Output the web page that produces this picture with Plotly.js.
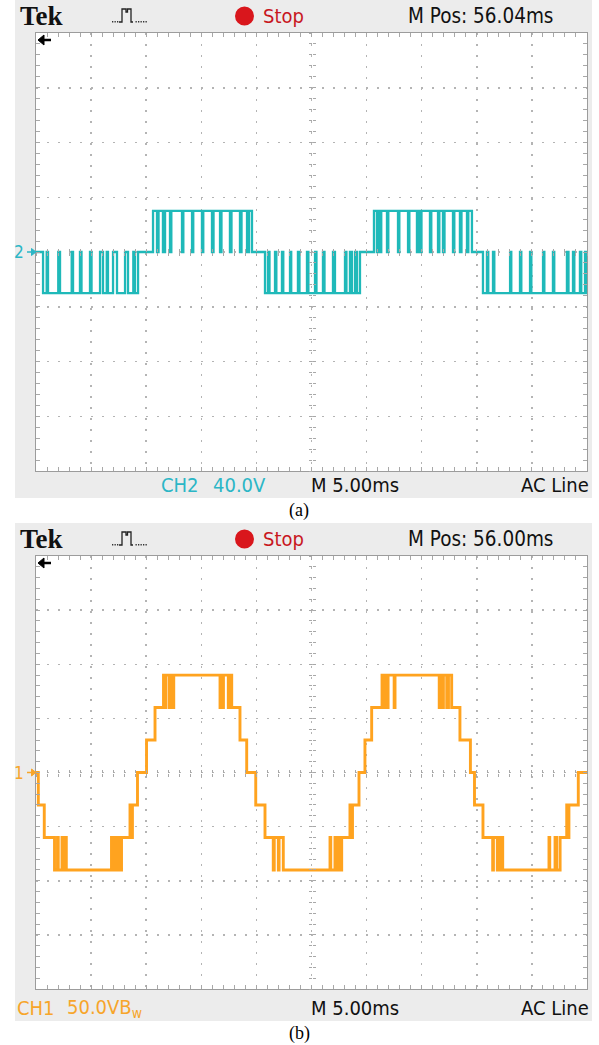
<!DOCTYPE html>
<html><head><meta charset="utf-8">
<script src="https://cdn.plot.ly/plotly-3.0.1.min.js"></script>
<style>html,body{margin:0;padding:0;background:#fff}#g{width:599px;height:1045px}</style>
</head><body><div id="g"></div>
<script>
// ---- data ----
// (a) CH2, single H-bridge cell output (V), time in ms
const tA = [0,0.64,0.97,1.09,2.02,2.18,3.24,3.36,3.99,4.13,4.90,5.04,5.81,6.08,6.42,6.53,6.99,7.35,8.08,8.35,8.83,8.98,9.26,
 10.62,10.98,11.12,11.52,11.71,12.16,12.28,13.25,13.37,14.16,14.27,15.06,15.18,15.97,16.11,16.70,16.83,17.60,17.74,18.51,18.65,19.15,19.33,19.60,
 20.78,21.05,21.19,21.69,21.81,22.32,22.44,23.05,23.16,23.77,23.91,24.59,24.72,25.32,25.45,26.04,26.18,26.95,27.13,28.04,28.17,28.49,28.67,28.95,29.13,29.40,
 30.67,30.94,31.06,31.21,31.33,31.85,31.97,32.85,32.97,33.76,33.88,34.57,34.71,34.84,34.98,35.75,35.87,36.48,36.60,36.93,37.07,37.84,37.96,38.47,38.61,39.11,39.23,39.56,
 40.56,40.92,41.04,41.47,41.59,43.02,43.13,43.92,44.04,44.83,44.95,46.01,46.13,46.91,47.03,48.18,48.32,48.73,48.85,49.36,49.48,49.82,49.91,50.00];
const vA = [0,-30,0,-30,0,-30,0,-30,0,-30,0,-30,0,-30,0,-30,0,-30,0,-30,0,-30,0,
 30,0,30,0,30,0,30,0,30,0,30,0,30,0,30,0,30,0,30,0,30,0,30,0,
 -30,0,-30,0,-30,0,-30,0,-30,0,-30,0,-30,0,-30,0,-30,0,-30,0,-30,0,-30,0,-30,0,
 30,0,30,0,30,0,30,0,30,0,30,0,30,0,30,0,30,0,30,0,30,0,30,0,30,0,30,0,
 -30,0,-30,0,-30,0,-30,0,-30,0,-30,0,-30,0,-30,0,-30,0,-30,0,-30,0,-30,-30];
// (b) CH1, seven-level staircase output (V), time in ms
const tB = [0,0.21,0.75,1.68,1.95,2.02,2.36,2.43,2.68,2.75,6.85,6.92,7.17,7.24,7.47,7.54,7.76,8.53,8.60,8.75,9.21,
 10.03,10.80,11.57,11.69,11.80,12.11,12.18,12.43,12.50,16.70,16.77,16.94,17.01,17.45,17.56,17.76,18.51,19.12,19.94,
 20.78,21.53,21.62,21.99,22.06,22.44,26.68,26.75,27.13,27.20,27.45,27.52,27.74,28.49,28.56,28.72,29.31,29.85,
 30.46,31.40,31.62,31.69,31.88,31.95,32.50,32.58,36.59,36.66,36.90,36.97,37.27,37.43,37.72,38.47,39.42,39.79,
 40.56,41.44,41.51,41.86,41.93,42.19,42.28,42.35,46.55,46.62,47.10,47.25,47.56,48.16,48.23,48.36,49.21,50.00];
const vB = [0,-30,-60,-90,-60,-90,-60,-90,-60,-90,-60,-90,-60,-90,-60,-90,-60,-30,-60,-30,0,
 30,60,90,60,90,60,90,60,90,60,90,60,90,60,90,60,30,0,-30,
 -60,-90,-60,-90,-60,-90,-60,-90,-60,-90,-60,-90,-60,-30,-60,-30,0,30,
 60,90,60,90,60,90,60,90,60,90,60,90,60,90,60,30,0,-30,
 -60,-90,-60,-90,-60,-90,-60,-90,-60,-90,-60,-90,-60,-30,-60,-30,0,0];
// scope settings / labels
const timeRange = [0, 50];          // 10 div x 5.00 ms
const rangeA = [-160, 160];         // 8 div x 40.0 V
const rangeB = [-200, 200];         // 8 div x 50.0 V
const headerA = {pos: 'M Pos: 56.04ms', ch: 'CH2', scale: '40.0V', tb: 'M 5.00ms', trig: 'AC Line', cap: '(a)', mark: '2'};
const headerB = {pos: 'M Pos: 56.00ms', ch: 'CH1', scale: '50.0VB<sub>w</sub>', tb: 'M 5.00ms', trig: 'AC Line', cap: '(b)', mark: '1'};

// ---- layout helpers (pixels -> paper) ----
const W = 599, H = 1045;
const px = x => x / W, py = y => 1 - y / H;
const poly = pts => 'M ' + pts.map(p => px(p[0]) + ' ' + py(p[1])).join(' L ');

const CYAN = '#1fb9b9', ORANGE = '#ffa31f', TXT_CYAN = '#2bb6c6', TXT_OR = '#f7a52a';
const FONT = 'DejaVu Sans Condensed, Liberation Sans Narrow, Arial Narrow, sans-serif';
const GRIDC = '#b4b4b4', TICKC = '#a8a8a8';

const panels = [
  {off: 0, top: 33, bot: 471, col: CYAN, tcol: TXT_CYAN, h: headerA, rng: rangeA, ax: ['x','y'], cx: ['x3','x4'], cy: ['y3','y4']},
  {off: 523, top: 556, bot: 989, col: ORANGE, tcol: TXT_OR, h: headerB, rng: rangeB, ax: ['x2','y2'], cx: ['x5','x6'], cy: ['y5','y6']}
];
const L = 36, R = 587;

const layout = {
  width: W, height: H, margin: {l: 0, r: 0, t: 0, b: 0},
  paper_bgcolor: '#ffffff', plot_bgcolor: 'rgba(0,0,0,0)', showlegend: false,
  shapes: [], annotations: []
};
const traces = [];
const axName = a => a.replace(/^x/, 'xaxis').replace(/^y/, 'yaxis');

panels.forEach((P, k) => {
  const ydom = [py(P.bot), py(P.top)];
  const xdom = [px(L), px(R)];
  const ydiv = (P.rng[1] - P.rng[0]) / 8;
  const base = {showticklabels: false, zeroline: false, fixedrange: true, showline: false, ticklen: 3, tickwidth: 1, tickcolor: TICKC, showgrid: false};
  layout[axName(P.ax[0])] = Object.assign({}, base, {
    domain: xdom, range: timeRange, anchor: P.ax[1], showgrid: true, tick0: 0, dtick: 5,
    gridcolor: GRIDC, gridwidth: 1.5, griddash: '1.5px,9.5px',
    ticks: 'inside', ticklen: 4, showline: true, linecolor: '#9c9c9c', linewidth: 1, mirror: 'ticks',
    minor: {dtick: 1, tick0: 0, ticks: 'inside', ticklen: 4, tickcolor: TICKC, showgrid: false}
  });
  layout[axName(P.ax[1])] = Object.assign({}, base, {
    domain: ydom, range: P.rng, anchor: P.ax[0], showgrid: true, tick0: 0, dtick: ydiv,
    gridcolor: GRIDC, gridwidth: 1.5, griddash: '1.5px,9.5px',
    ticks: 'inside', ticklen: 4, showline: true, linecolor: '#9c9c9c', linewidth: 1, mirror: 'ticks',
    minor: {dtick: ydiv / 5, tick0: 0, ticks: 'inside', ticklen: 4, tickcolor: TICKC, showgrid: false}
  });
  const cyPaper = (ydom[0] + ydom[1]) / 2, cxPaper = (xdom[0] + xdom[1]) / 2;
  P.cx.forEach((a, i) => {
    layout[axName(a)] = Object.assign({}, base, {overlaying: P.ax[0], anchor: 'free', position: cyPaper, range: timeRange,
      tick0: 0, dtick: 1, ticks: i ? 'outside' : 'inside'});
    traces.push({x: [], y: [], xaxis: a, yaxis: P.ax[1], type: 'scatter', hoverinfo: 'skip'});
  });
  P.cy.forEach((a, i) => {
    layout[axName(a)] = Object.assign({}, base, {overlaying: P.ax[1], anchor: 'free', position: cxPaper, range: P.rng,
      tick0: 0, dtick: ydiv / 5, ticks: i ? 'outside' : 'inside'});
    traces.push({x: [], y: [], xaxis: P.ax[0], yaxis: a, type: 'scatter', hoverinfo: 'skip'});
  });

  const o = P.off;
  // frame + screen
  layout.shapes.push({type: 'rect', xref: 'paper', yref: 'paper', layer: 'below', x0: px(15), x1: px(592), y0: py(o + 498), y1: py(o), fillcolor: '#ececec', line: {width: 0}});
  layout.shapes.push({type: 'rect', xref: 'paper', yref: 'paper', layer: 'below', x0: px(L), x1: px(R), y0: ydom[0], y1: ydom[1], fillcolor: '#ffffff', line: {width: 0}});
  // stop dot
  layout.shapes.push({type: 'circle', xref: 'paper', yref: 'paper', x0: px(235), x1: px(254), y0: py(o + 25.5), y1: py(o + 6.5), fillcolor: '#d9161c', line: {width: 0}});
  // trigger icon
  layout.shapes.push({type: 'path', xref: 'paper', yref: 'paper', line: {color: '#222', width: 1.3},
    path: poly([[119, o + 22], [122, o + 22], [122, o + 9], [126, o + 9], [126, o + 12], [127.5, o + 12], [127.5, o + 9], [131, o + 9], [131, o + 22], [133, o + 22]])});
  [112, 114.5, 117, 135.5, 138, 140.5, 143, 145.5].forEach(xd => layout.shapes.push({type: 'rect', xref: 'paper', yref: 'paper',
    x0: px(xd), x1: px(xd + 1.3), y0: py(o + 22.5), y1: py(o + 21), fillcolor: '#333', line: {width: 0}}));
  // trigger-position arrow (top-left, black)
  const ay = P.top + 7;
  layout.shapes.push({type: 'path', xref: 'paper', yref: 'paper', fillcolor: '#000', line: {color: '#000', width: 1},
    path: poly([[38, ay], [44, ay - 5], [44, ay + 5]]) + ' Z'});
  layout.shapes.push({type: 'line', xref: 'paper', yref: 'paper', x0: px(43), x1: px(51), y0: py(ay), y1: py(ay), line: {color: '#000', width: 2.5}});
  // channel ground marker arrow
  const my = (P.top + P.bot) / 2;
  layout.shapes.push({type: 'line', xref: 'paper', yref: 'paper', x0: px(27), x1: px(33), y0: py(my), y1: py(my), line: {color: P.tcol, width: 1.5}});
  layout.shapes.push({type: 'path', xref: 'paper', yref: 'paper', fillcolor: P.tcol, line: {color: P.tcol, width: 1},
    path: poly([[36, my], [31.5, my - 3.5], [31.5, my + 3.5]]) + ' Z'});

  const A = (text, x, y, xa, size, color, fam) => layout.annotations.push({
    text, xref: 'paper', yref: 'paper', x: px(x), y: py(y), xanchor: xa, yanchor: 'middle', showarrow: false,
    font: {size, color, family: fam || FONT}});
  A('<b>Tek</b>', 18, o + 16, 'left', 27, '#111', 'Liberation Serif, Times New Roman, serif');
  A('Stop', 261, o + 16, 'left', 20, '#c8171e');
  A(P.h.pos, 406, o + 16, 'left', 20.5, '#111');
  A(P.h.mark, 26, my, 'right', 17, P.tcol);
  const by = o + 485;
  if (k === 0) {
    A(P.h.ch, 159, by, 'left', 20, P.tcol);
    A(P.h.scale, 211, by, 'left', 20, P.tcol);
  } else {
    A(P.h.ch, 15, by, 'left', 20, P.tcol);
    A(P.h.scale, 65, by, 'left', 20, P.tcol);
  }
  A(P.h.tb, 309, by, 'left', 20, '#111');
  A(P.h.trig, 591, by, 'right', 20, '#111');
  A(P.h.cap, 299, o + 510, 'center', 18, '#000', 'Liberation Serif, Times New Roman, serif');
});

traces.push({x: tA, y: vA, xaxis: 'x', yaxis: 'y', type: 'scatter', mode: 'lines', line: {shape: 'hv', color: CYAN, width: 2.3}, hoverinfo: 'skip'});
traces.push({x: tB, y: vB, xaxis: 'x2', yaxis: 'y2', type: 'scatter', mode: 'lines', line: {shape: 'hv', color: ORANGE, width: 2.9}, hoverinfo: 'skip'});

Plotly.newPlot('g', traces, layout, {staticPlot: true, displayModeBar: false});
</script></body></html>
